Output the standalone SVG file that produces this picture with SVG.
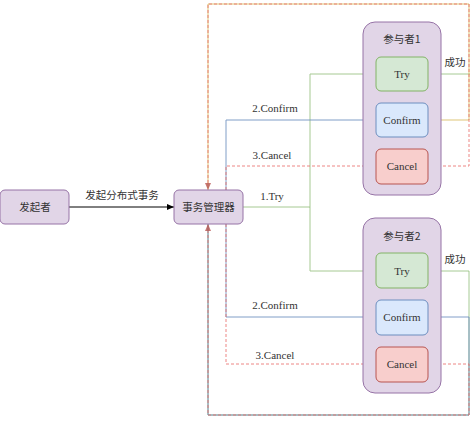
<svg xmlns="http://www.w3.org/2000/svg" width="475" height="421" viewBox="0 0 475 421">
<style>
.node{fill:#e1d5e7;stroke:#9673a6;stroke-width:1}
.try{fill:#d5e8d4;stroke:#82b366}
.conf{fill:#dae8fc;stroke:#6c8ebf}
.canc{fill:#f8cecc;stroke:#b85450}
.cn{font-family:"Noto Sans CJK SC","Noto Sans",sans-serif;font-size:10.5px;fill:#333}
text.en{font-family:"Liberation Serif","Times New Roman","DejaVu Serif",serif;font-size:11px;fill:#333}
.ln{fill:none;stroke-width:1}
.g{stroke:#82b366;opacity:.7}
.b{stroke:#6c8ebf;opacity:.85}
.r{stroke:#ea6b66;stroke-dasharray:3 2;opacity:.8}
.y{stroke:#d6b656}
</style>
<defs>
<marker id="ak" markerUnits="userSpaceOnUse" markerWidth="8" markerHeight="8" refX="7" refY="4" orient="auto"><path d="M0,1 L7,4 L0,7 Z" fill="#000"/></marker>
<marker id="ag" markerUnits="userSpaceOnUse" markerWidth="8" markerHeight="8" refX="7" refY="4" orient="auto"><path d="M0,1 L7,4 L0,7 Z" fill="#82b366"/></marker>
<marker id="ab" markerUnits="userSpaceOnUse" markerWidth="8" markerHeight="8" refX="7" refY="4" orient="auto"><path d="M0,1 L7,4 L0,7 Z" fill="#6c8ebf"/></marker>
<marker id="ar" markerUnits="userSpaceOnUse" markerWidth="8" markerHeight="8" refX="7" refY="4" orient="auto"><path d="M0,1 L7,4 L0,7 Z" fill="#b85450"/></marker>
</defs>

<g id="connectors">
  <path class="ln" d="M69,207 H174" stroke="#000" marker-end="url(#ak)"/>
  <path class="ln g" d="M243,207 H310 V74 H376" marker-end="url(#ag)"/>
  <path class="ln g" d="M310,207 V271 H376" marker-end="url(#ag)"/>
  <path class="ln b" d="M226,190 V120 H376" marker-end="url(#ab)"/>
  <path class="ln b" d="M226,224 V317 H376" marker-end="url(#ab)"/>
  <path class="ln r" d="M226,190 V166 H376" marker-end="url(#ar)"/>
  <path class="ln r" d="M226,224 V364 H376" marker-end="url(#ar)"/>
  <path class="ln g" d="M428,74 H470"/>
  <path class="ln y" d="M428,120 H469 V4 H208 V190" opacity=".8"/>
  <path class="ln r" d="M428,166 H469 V4 H208 V190" stroke="#e06c4c" marker-end="url(#ar)"/>
  <path class="ln g" d="M428,271 H469 V415 H208 V224"/>
  <path class="ln b" d="M428,317 H469 V415 H208 V224" opacity=".6"/>
  <path class="ln r" d="M428,364 H469 V415 H208 V224" opacity=".6" marker-end="url(#ar)"/>
  <text class="cn" x="122" y="199" text-anchor="middle">发起分布式事务</text>
  <text class="en" x="272" y="200" text-anchor="middle" font-family="Liberation Serif, serif">1.Try</text>
  <text class="en" x="275" y="112" text-anchor="middle" font-family="Liberation Serif, serif">2.Confirm</text>
  <text class="en" x="272" y="159" text-anchor="middle" font-family="Liberation Serif, serif">3.Cancel</text>
  <text class="en" x="275" y="309" text-anchor="middle" font-family="Liberation Serif, serif">2.Confirm</text>
  <text class="en" x="275" y="359" text-anchor="middle" font-family="Liberation Serif, serif">3.Cancel</text>
  <text class="cn" x="455" y="66" text-anchor="middle">成功</text>
  <text class="cn" x="455" y="263" text-anchor="middle">成功</text>
</g>

<g id="initiator">
  <rect class="node" x="0" y="190" width="69" height="34" rx="5"/>
  <text class="cn" x="35" y="211" text-anchor="middle">发起者</text>
</g>
<g id="manager">
  <rect class="node" x="174" y="190" width="69" height="34" rx="5"/>
  <text class="cn" x="208.5" y="211" text-anchor="middle">事务管理器</text>
</g>

<g id="participant1">
  <rect class="node" x="363" y="22" width="78" height="173" rx="12"/>
  <text class="cn" x="402" y="43" text-anchor="middle">参与者1</text>
</g>
<g id="try1">
  <rect class="try" x="376" y="57" width="52" height="34" rx="5"/>
  <text class="en" x="402" y="78" text-anchor="middle" font-family="Liberation Serif, serif">Try</text>
</g>
<g id="confirm1">
  <rect class="conf" x="376" y="103" width="52" height="34" rx="5"/>
  <text class="en" x="402" y="124" text-anchor="middle" font-family="Liberation Serif, serif">Confirm</text>
</g>
<g id="cancel1">
  <rect class="canc" x="376" y="149" width="52" height="35" rx="5"/>
  <text class="en" x="402" y="170" text-anchor="middle" font-family="Liberation Serif, serif">Cancel</text>
</g>

<g id="participant2">
  <rect class="node" x="363" y="218" width="78" height="175" rx="12"/>
  <text class="cn" x="402" y="240" text-anchor="middle">参与者2</text>
</g>
<g id="try2">
  <rect class="try" x="376" y="253" width="52" height="35" rx="5"/>
  <text class="en" x="402" y="275" text-anchor="middle" font-family="Liberation Serif, serif">Try</text>
</g>
<g id="confirm2">
  <rect class="conf" x="376" y="300" width="52" height="35" rx="5"/>
  <text class="en" x="402" y="321" text-anchor="middle" font-family="Liberation Serif, serif">Confirm</text>
</g>
<g id="cancel2">
  <rect class="canc" x="376" y="347" width="52" height="35" rx="5"/>
  <text class="en" x="402" y="368" text-anchor="middle" font-family="Liberation Serif, serif">Cancel</text>
</g>
</svg>
